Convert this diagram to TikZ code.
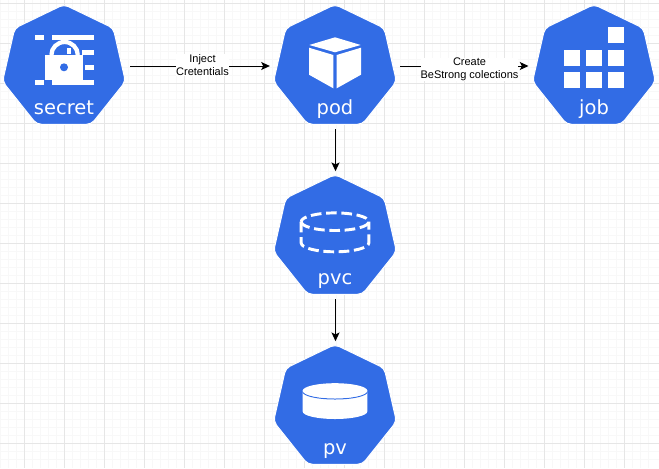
\documentclass[tikz,border=0pt]{standalone}
\usepackage{fontspec}
\usepackage{tikz}
\usetikzlibrary{shapes.geometric}
\usetikzlibrary{arrows.meta}
\newfontfamily\kubefont{DejaVu Sans}
\newfontfamily\edgefont{Liberation Sans}
\definecolor{kubeblue}{HTML}{326CE5}
\definecolor{gridmajor}{HTML}{E6E6E6}
\definecolor{gridminor}{HTML}{F8F8F8}
\tikzset{kube/.style={regular polygon, regular polygon sides=7, minimum size=94.5pt, inner sep=0pt, outer sep=0pt,
		fill=kubeblue, draw=white, line width=0.75pt, rounded corners=3.5pt},
	kubename/.style={text=white, font=\kubefont\fontsize{14.6pt}{16pt}\selectfont, anchor=base, inner sep=0pt},
	edgename/.style={fill=white, align=center, inner sep=0pt, font=\edgefont\fontsize{8.25pt}{9.75pt}\selectfont},
	link/.style={-{Stealth[length=6.5pt,width=6pt,inset=1.5pt]}, draw=black, line width=0.75pt},
	iconpart/.style={fill=white, draw=none},
	dashring/.style={white, line width=2.2pt, dash pattern=on 8pt off 3.5pt}}

\begin{document}
\begin{tikzpicture}[x=0.75pt, y=-0.75pt]
		\useasboundingbox (0, 0) rectangle (659, 468);
		\fill[white] (0, 0) rectangle (659, 468);
		% grid
		\begin{scope}[line width=0.75pt]
			\foreach \gx in {0.5, 8.5, ..., 656} {\draw[gridminor] (\gx, 0) -- (\gx, 468);}
			\foreach \gy in {3.5, 11.5, ..., 467} {\draw[gridminor] (0, \gy) -- (659, \gy);}
			\foreach \gx in {24.5, 64.5, ..., 656} {\draw[gridmajor] (\gx, 0) -- (\gx, 468);}
			\foreach \gy in {3.5, 43.5, ..., 467} {\draw[gridmajor] (0, \gy) -- (659, \gy);}
		\end{scope}
		% hexagons
		\node[kube](secret) at (64, 67.5) {};
		\node[kube](pod) at (335, 67.5) {};
		\node[kube](job) at (594, 67.5) {};
		\node[kube](pvc) at (335, 237.5) {};
		\node[kube](pv) at (335, 407.5) {};
		\node[kubename](secretname) at (64, 114) {secret};
		\node[kubename](podname) at (335, 114) {pod};
		\node[kubename](jobname) at (594, 114) {job};
		\node[kubename](pvcname) at (335, 284) {pvc};
		\node[kubename](pvname) at (335, 454) {pv};
		% connectors
		\draw[link, shorten <=5.9pt, shorten >=5.2pt] ([yshift=1.125pt]secret.east) -- ([yshift=1.125pt]pod.west);
		\draw[link, shorten <=5.4pt, shorten >=5.5pt] ([yshift=1.125pt]pod.east) -- ([yshift=1.125pt]job.west);
		\draw[link, shorten <=3.75pt, shorten >=2.5pt] ([xshift=0.375pt]pod.south) -- ([xshift=0.375pt]pvc.north);
		\draw[link, shorten <=3.75pt, shorten >=2.5pt] ([xshift=0.375pt]pvc.south) -- ([xshift=0.375pt]pv.north);
		\node[edgename](inject) at (202.5, 65) {Inject\\Cretentials};
		\node[edgename](create) at (469.5, 69.5) {Create\\BeStrong colections};
		% secret icon
		\fill[iconpart] (34.5, 34.5) rectangle (44.3, 39.7);
		\fill[iconpart] (52, 34.5) rectangle (94, 39.7);
		\fill[iconpart] (81.7, 50) rectangle (94, 54.5);
		\fill[iconpart] (85, 64.5) rectangle (94, 70);
		\fill[iconpart] (34.5, 79.5) rectangle (44.3, 84.7);
		\fill[iconpart] (52, 79.5) rectangle (94, 84.7);
		\draw[white, line width=3.2pt] (51.4, 55) arc (180:360:13.2 and 13);
		\fill[iconpart] (66.7, 48.3) rectangle (70.7, 54);
		\fill[iconpart] (45, 55) rectangle (83.3, 79.6);
		\fill[kubeblue] (64, 67.3) circle (3pt);
		% pod icon
		\fill[iconpart] (335, 37.3) -- (360.7, 45) -- (335, 52.3) -- (309.3, 45) -- cycle;
		\fill[iconpart] (309, 47.7) -- (333.3, 55) -- (333.3, 88.3) -- (309, 74.7) -- cycle;
		\fill[iconpart] (361, 47.7) -- (336.7, 55) -- (336.7, 88.3) -- (361, 74.7) -- cycle;
		% job icon
		\foreach \qx/\qy in {608.3/27.3, 564/49.7, 586/49.7, 608.3/49.7, 564/71.7, 586/71.7, 608.3/71.7}
		\fill[iconpart] (\qx, \qy) rectangle +(16, 16);
		% pvc icon
		\draw[dashring] (301.2, 221.7) arc (180:-180:33.8 and 8.8);
		\draw[dashring] (301.2, 221.7) -- (301.2, 243) arc (180:0:33.8 and 8.8) -- (368.8, 221.7);
		% pv icon
		\fill[iconpart] (302.7, 390.7) -- (302.7, 411.5) arc (180:0:32.3 and 7.5) -- (367.3, 390.7) -- cycle;
		\draw[kubeblue, line width=0.75pt] (302.7, 391.5) arc (180:0:32.3 and 7.5);
		\fill[iconpart] (335, 390.7) ellipse (32.3 and 7.5);
	\end{tikzpicture}
\end{document}
